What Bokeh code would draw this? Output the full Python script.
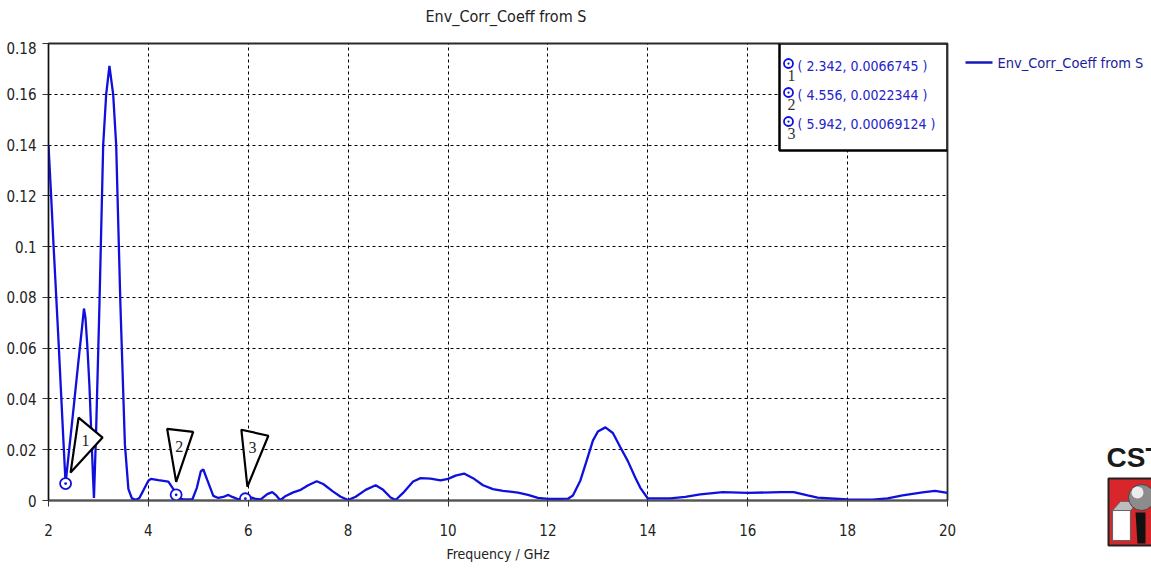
from bokeh.plotting import figure
from bokeh.layouts import row, column
from bokeh.models import FixedTicker, ColumnDataSource, Range1d
from bokeh.core.properties import value
from bokeh.embed import file_html
from bokeh.resources import INLINE

# Envelope correlation coefficient vs. frequency
freq = [2.0, 2.05, 2.1, 2.2, 2.3, 2.342, 2.4, 2.5, 2.6, 2.66, 2.71, 2.74, 2.78,
        2.82, 2.86, 2.89, 2.91, 2.95, 3.02, 3.095, 3.155, 3.22, 3.295, 3.355,
        3.44, 3.53, 3.6, 3.67, 3.75, 3.82, 3.9, 4.0, 4.05, 4.2, 4.4, 4.5, 4.556,
        4.62, 4.7, 4.88, 4.97, 5.05, 5.1, 5.18, 5.3, 5.4, 5.5, 5.6, 5.68, 5.8,
        5.942, 6.05, 6.15, 6.25, 6.38, 6.48, 6.56, 6.64, 6.75, 6.9, 7.05, 7.2,
        7.37, 7.5, 7.7, 7.85, 8.0, 8.15, 8.35, 8.55, 8.7, 8.85, 8.95, 9.1, 9.3,
        9.45, 9.65, 9.85, 10.0, 10.15, 10.32, 10.5, 10.7, 10.9, 11.1, 11.4, 11.6,
        11.8, 12.0, 12.4, 12.5, 12.65, 12.78, 12.9, 13.0, 13.15, 13.3, 13.45,
        13.6, 13.75, 13.85, 14.0, 14.45, 14.75, 15.05, 15.5, 16.0, 16.66, 16.92,
        17.2, 17.4, 18.0, 18.5, 18.8, 19.1, 19.5, 19.75, 20.0]
ecc = [0.14, 0.121, 0.101, 0.063, 0.023, 0.0067, 0.0175, 0.036, 0.055, 0.066,
       0.0756, 0.072, 0.06, 0.045, 0.025, 0.01, 0.001, 0.025, 0.077, 0.14, 0.16,
       0.1712, 0.16, 0.14, 0.077, 0.022, 0.0045, 0.0008, 0.0003, 0.001, 0.004,
       0.0078, 0.0085, 0.008, 0.0074, 0.0045, 0.0022, 0.0008, 0.0004, 0.0004,
       0.005, 0.0115, 0.0122, 0.008, 0.0018, 0.001, 0.0014, 0.0022, 0.0014,
       0.0005, 0.00069, 0.0012, 0.0006, 0.0004, 0.0025, 0.0033, 0.002, 0.0001,
       0.0018, 0.0032, 0.0042, 0.006, 0.0076, 0.0065, 0.0035, 0.0015, 0.0002,
       0.0015, 0.0042, 0.006, 0.0042, 0.0012, 0.0002, 0.003, 0.0075, 0.0088,
       0.0086, 0.0079, 0.0085, 0.0098, 0.0106, 0.0088, 0.006, 0.0045, 0.0038,
       0.0031, 0.0022, 0.001, 0.0006, 0.0007, 0.002, 0.0079, 0.016, 0.0236,
       0.0272, 0.0288, 0.0266, 0.021, 0.0155, 0.009, 0.005, 0.0008, 0.0008,
       0.0014, 0.0024, 0.0033, 0.003, 0.0033, 0.0033, 0.002, 0.0011, 0.0004,
       0.0003, 0.0008, 0.002, 0.0032, 0.0038, 0.003]

# Curve markers
marker_ids = ["1", "2", "3"]
marker_freq = [2.342, 4.556, 5.942]
marker_val = [0.0066745, 0.0022344, 0.00069124]

x_ticks = [2, 4, 6, 8, 10, 12, 14, 16, 18, 20]
y_ticks = [0, 0.02, 0.04, 0.06, 0.08, 0.1, 0.12, 0.14, 0.16, 0.18]
y_tick_labels = ["0", "0.02", "0.04", "0.06", "0.08", "0.1", "0.12", "0.14",
                 "0.16", "0.18"]

series_name = "Env_Corr_Coeff from S"
x_title = "Frequency / GHz"

W, H = 1151, 569
TOP_H = 41            # title strip
MAIN_W = 962
MAIN_H = H - TOP_H
L, R, T, B = 48, 15, 2, 69
X0, X1, Y0, Y1 = 2, 20, 0, 0.18
FW, FH = MAIN_W - L - R, MAIN_H - T - B
FRAME_TOP = TOP_H + T
UI_FONT = "DejaVu Sans Condensed"
BLUE = "#1010dd"
kx = (X1 - X0) / FW   # data units per pixel
ky = (Y1 - Y0) / FH


def cx(px):
    """canvas x pixel -> data x"""
    return X0 + (px - L) * kx


def cy(py):
    """canvas y pixel -> data y"""
    return Y0 + (FRAME_TOP + FH - py) * ky


def pixel_strip(x_left, y_top, w, h):
    """a blank figure whose data coordinates are canvas pixels"""
    f = figure(width=w, height=h, x_range=Range1d(x_left, x_left + w),
               y_range=Range1d(y_top + h, y_top), output_backend="svg",
               toolbar_location=None, min_border=0,
               background_fill_color="white", border_fill_color="white")
    f.frame_align = False
    f.axis.visible = False
    f.grid.visible = False
    f.outline_line_color = None
    return f


# title strip
top = pixel_strip(0, 0, W, TOP_H)
top.text([425], [16], text=[series_name], text_font=value(UI_FONT),
         text_font_size="16px", text_color="#222222", text_align="left",
         text_baseline="middle")

p = figure(width=MAIN_W, height=MAIN_H, x_range=(X0, X1), y_range=(Y0, Y1),
           output_backend="svg", toolbar_location=None,
           min_border_left=L, min_border_right=R, min_border_top=T,
           min_border_bottom=B, background_fill_color="white",
           border_fill_color="white")
p.frame_align = False
p.title.visible = False
p.outline_line_color = "#2a2a2a"
p.outline_line_width = 1.8

# axes
p.xaxis.ticker = FixedTicker(ticks=x_ticks)
p.yaxis.ticker = FixedTicker(ticks=y_ticks)
p.yaxis.major_label_overrides = {t: s for t, s in zip(y_ticks, y_tick_labels)}
for ax in (p.xaxis[0], p.yaxis[0]):
    ax.major_label_text_font = UI_FONT
    ax.major_label_text_font_size = "15px"
    ax.major_label_text_color = "#222222"
    ax.minor_tick_line_color = None
    ax.major_tick_out = 6
    ax.major_tick_in = 0
    ax.major_tick_line_color = "#333333"
    ax.major_label_standoff = 6
p.xaxis.major_label_standoff = 17
p.xaxis.axis_line_color = "#555555"
p.xaxis.axis_line_width = 1.5
p.yaxis.axis_line_color = "#111111"
p.xaxis.axis_label = x_title
p.xaxis.axis_label_text_font = UI_FONT
p.xaxis.axis_label_text_font_size = "14px"
p.xaxis.axis_label_text_font_style = "normal"
p.xaxis.axis_label_text_color = "#222222"
p.xaxis.axis_label_standoff = 7

p.grid.grid_line_color = "black"
p.grid.grid_line_dash = "3 3"
p.grid.grid_line_width = 1

# curve
src = ColumnDataSource(dict(f=freq, v=ecc))
p.line("f", "v", source=src, line_color=BLUE, line_width=2.3)

# marker callouts (triangles pointing at the markers), offsets in pixels
tri_offsets = [[(5, -11), (13, -66), (37, -46)],
               [(0, -13), (-9, -66), (17, -63)],
               [(2, -12), (-4, -69), (23, -63)]]
num_offsets = [(20, -43), (3, -48), (7, -51)]
xs = [[mx + o[0] * kx for o in offs] for mx, offs in zip(marker_freq, tri_offsets)]
ys = [[my - o[1] * ky for o in offs] for my, offs in zip(marker_val, tri_offsets)]
p.patches(xs, ys, fill_color="white", line_color="black", line_width=2.2)
p.text([mx + o[0] * kx for mx, o in zip(marker_freq, num_offsets)],
       [my - o[1] * ky for my, o in zip(marker_val, num_offsets)],
       text=marker_ids, text_font=value("Liberation Serif"),
       text_font_size="16px", text_color="#222222", text_align="center",
       text_baseline="middle")
p.scatter(marker_freq, marker_val, marker="circle_dot", size=11,
          line_color=BLUE, fill_color="white", line_width=1.8)

# marker readout box in the top-right corner of the frame
p.quad(left=[cx(779)], right=[X1], top=[Y1], bottom=[cy(150)],
       fill_color="white", line_color="black", line_width=2.5)
row_y = [63, 92, 121]
p.scatter([cx(788)] * 3, [cy(r) for r in row_y], marker="circle_dot", size=9,
          line_color=BLUE, fill_color="white", line_width=1.8)
p.text([cx(791)] * 3, [cy(r + 12) for r in row_y], text=marker_ids,
       text_font=value("Liberation Serif"), text_font_size="16px",
       text_color="#333333", text_align="center", text_baseline="middle")
p.text([cx(797)] * 3, [cy(r + 2) for r in row_y],
       text=[f"( {mx}, {my} )" for mx, my in zip(marker_freq, marker_val)],
       text_font=value(UI_FONT), text_font_size="14px", text_color="#2424c8",
       text_align="left", text_baseline="middle")

# right-hand strip: series legend and CST logo
SW = W - MAIN_W
side = pixel_strip(MAIN_W, TOP_H, SW, MAIN_H)
side.segment(x0=[965], y0=[62], x1=[992], y1=[62], line_color="#1818b8",
             line_width=2.3)
side.text([997], [62], text=[series_name], text_font=value(UI_FONT),
          text_font_size="14.5px", text_color="#1c1c9c", text_align="left",
          text_baseline="middle")

side.text([1106], [457], text=["CST"], text_font=value("Liberation Sans"),
          text_font_style="bold", text_font_size="28px", text_color="#1a1a1a",
          text_align="left", text_baseline="middle")
side.quad(left=[1108], right=[W + 5], top=[478], bottom=[545],
          fill_color="#d8262a", line_color="#222222", line_width=2)
side.quad(left=[1112], right=[1130], top=[510], bottom=[540],
          fill_color="white", line_color="#666666", line_width=1.2)
side.patches([[1112, 1120, 1138, 1130]], [[510, 501, 501, 510]],
             fill_color="#bdbdbd", line_color="#666666", line_width=1)
side.patches([[1135, 1145, 1145, 1137]], [[512, 512, 543, 543]],
             fill_color="#111111", line_color=None)
side.circle([1141], [497], radius=13, fill_color="#8c8c8c", line_color="#444444")
side.circle([1137], [492], radius=6, fill_color="#ececec", line_color=None)

layout = column(top, row(p, side))
open("out.html", "w").write(file_html(layout, INLINE))
